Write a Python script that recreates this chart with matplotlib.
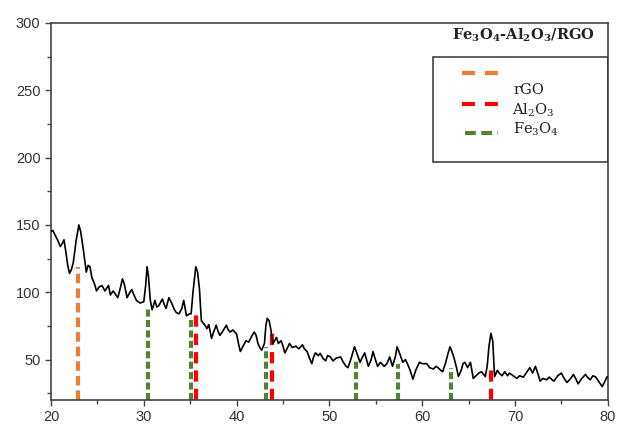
import matplotlib
matplotlib.use("Agg")
import matplotlib.pyplot as plt
from matplotlib.patches import Rectangle
from matplotlib.ticker import MultipleLocator

# XRD pattern (2-theta, intensity)
two_theta = [20.0, 20.2, 20.4, 20.7, 21.0, 21.2, 21.4, 21.6, 21.8, 22.0, 22.2, 22.4, 22.7, 23.0, 23.2,
             23.5, 23.8, 24.0, 24.2, 24.4, 24.7, 24.9, 25.2, 25.5, 25.8, 26.0, 26.2, 26.4, 26.7, 26.9,
             27.2, 27.5, 27.7, 27.9, 28.2, 28.5, 28.7, 29.0, 29.2, 29.6, 30.0, 30.2, 30.35, 30.5, 30.7,
             30.9, 31.2, 31.4, 31.6, 32.0, 32.2, 32.4, 32.7, 33.0, 33.3, 33.5, 33.8, 34.1, 34.3, 34.6,
             34.9, 35.1, 35.3, 35.6, 35.8, 36.0, 36.2, 36.4, 36.6, 36.8, 37.0, 37.3, 37.5, 37.8, 38.0,
             38.2, 38.5, 38.9, 39.1, 39.3, 39.6, 40.0, 40.2, 40.4, 40.7, 41.0, 41.3, 41.6, 41.9, 42.1,
             42.3, 42.5, 42.7, 43.0, 43.15, 43.3, 43.5, 43.7, 43.9, 44.1, 44.3, 44.5, 44.8, 45.0, 45.2,
             45.5, 45.7, 46.0, 46.4, 46.7, 47.1, 47.3, 47.6, 47.8, 48.1, 48.3, 48.5, 48.8, 49.0, 49.3,
             49.6, 49.8, 50.1, 50.4, 50.7, 51.2, 51.5, 51.8, 52.0, 52.3, 52.7, 53.0, 53.3, 53.5, 53.8,
             54.0, 54.2, 54.5, 54.7, 55.0, 55.2, 55.5, 55.9, 56.2, 56.5, 56.8, 57.1, 57.3, 57.6, 57.9,
             58.2, 58.4, 58.7, 59.0, 59.3, 59.7, 60.0, 60.5, 60.8, 61.2, 61.5, 61.7, 62.0, 62.2, 62.5,
             62.8, 63.0, 63.2, 63.4, 63.7, 63.9, 64.2, 64.4, 64.6, 64.9, 65.2, 65.5, 65.8, 66.1, 66.4,
             66.8, 67.0, 67.2, 67.4, 67.6, 67.8, 68.1, 68.3, 68.6, 68.9, 69.2, 69.4, 69.8, 70.2, 70.5,
             70.9, 71.2, 71.6, 71.9, 72.2, 72.5, 72.7, 73.0, 73.4, 73.7, 74.0, 74.2, 74.6, 75.0, 75.3,
             75.6, 76.0, 76.3, 76.6, 76.8, 77.2, 77.6, 77.8, 78.1, 78.4, 78.7, 79.0, 79.4, 79.7, 79.9, 80.0]
intensity = [145, 146, 143, 139, 134, 136, 139, 130, 120, 114, 117, 122, 138, 150, 145,
             131, 115, 120, 119, 111, 106, 101, 104, 105, 101, 103, 105, 98, 101, 99,
             96, 104, 110, 106, 96, 100, 102, 97, 94, 92, 93, 105, 119, 112, 94,
             87, 94, 89, 90, 95, 91, 88, 96, 92, 87, 85, 84, 88, 94, 82.5,
             84, 84, 100, 119, 115, 102, 79, 77, 75.5, 73, 76, 65.7, 70, 75.5, 71,
             68, 71, 75.5, 72, 70.5, 72, 69, 62, 56, 60, 64, 63, 67, 70.5, 68,
             62, 59, 57, 62, 75, 80.6, 79, 72, 62, 64, 66.5, 62, 64, 60, 55,
             59, 62, 59, 60, 58, 61, 58, 56, 52, 47, 52, 55, 53, 54.6, 51,
             49, 53, 52, 49, 51, 52, 48, 45, 44, 50, 59.5, 54, 48, 51, 55,
             50, 45, 50, 56, 49, 45, 48, 45, 47, 52, 45, 52, 59.5, 54, 48,
             50, 47, 42, 35.5, 42, 48, 47, 47, 44, 43, 45, 44, 42, 41, 47,
             55, 59.5, 56, 52, 44, 37.5, 42, 47, 48, 44, 48, 36, 38, 40, 41,
             37.4, 45, 60, 69.5, 64, 37.4, 42, 40, 38, 41, 38, 40, 38, 36, 38,
             37, 40, 44, 40, 45, 39, 34, 36, 35, 37, 35, 34, 38, 40, 36,
             33, 36, 39, 35, 32, 36, 39, 37, 35, 38, 37, 34, 30, 34, 37, 37]

# Reference peak positions and marker heights
rgo_pos = [22.9]
rgo_top = [119]
al2o3_pos = [35.6, 43.8, 67.4]
al2o3_top = [83, 69.7, 43.6]
fe3o4_pos = [30.4, 35.05, 43.2, 52.85, 57.4, 63.05]
fe3o4_top = [89, 80.8, 59.5, 49.5, 47, 43.6]

ORANGE = "#ED7D31"
RED = "#FF0000"
GREEN = "#548235"
Y0 = 20

plt.rcParams["mathtext.fontset"] = "dejavuserif"
fig = plt.figure(figsize=(6.19, 4.24), dpi=100)
ax = fig.add_axes([0.0824, 0.0566, 0.8995, 0.8892])

ax.plot(two_theta, intensity, color="black", lw=1.2, zorder=3)

ax.vlines(rgo_pos, Y0, rgo_top, colors=ORANGE, lw=3, linestyles=(0, (2.3, 1.2)), zorder=2)
ax.vlines(al2o3_pos, Y0, al2o3_top, colors=RED, lw=3, linestyles=(0, (2.7, 1.7)), zorder=2)
ax.vlines(fe3o4_pos, Y0, fe3o4_top, colors=GREEN, lw=3, linestyles=(0, (1.7, 0.8)), zorder=2)

ax.set_xlim(20, 80)
ax.set_ylim(Y0, 300)
ax.xaxis.set_major_locator(MultipleLocator(10))
ax.xaxis.set_minor_locator(MultipleLocator(5))
ax.yaxis.set_major_locator(MultipleLocator(50))
ax.yaxis.set_minor_locator(MultipleLocator(25))
ax.tick_params(which="both", direction="out", colors="#444444", labelcolor="#333333",
               top=False, right=False)
ax.tick_params(which="major", length=4, width=1, labelsize=10.5)
ax.tick_params(which="minor", length=3, width=1)
for lab in ax.get_xticklabels() + ax.get_yticklabels():
    lab.set_fontfamily("Liberation Sans")
for s in ax.spines.values():
    s.set_color("#444444")
    s.set_linewidth(1.2)

# title inside the axes
ax.text(0.977, 0.968, r"Fe$_\mathbf{3}$O$_\mathbf{4}$-Al$_\mathbf{2}$O$_\mathbf{3}$/RGO",
        transform=ax.transAxes, ha="right", va="center", fontsize=10.5,
        fontweight="bold", family="DejaVu Serif", color="#222222")

# manual legend box
ax.add_patch(Rectangle((0.686, 0.631), 0.314, 0.279, transform=ax.transAxes,
                       fill=False, edgecolor="#333333", lw=1.1, zorder=4))
ax.plot([0.738, 0.803], [0.867, 0.867], transform=ax.transAxes, color=ORANGE, lw=3,
        linestyle=(0, (3.1, 2.4)))
ax.plot([0.738, 0.803], [0.785, 0.785], transform=ax.transAxes, color=RED, lw=3,
        linestyle=(0, (3.1, 2.4)))
ax.plot([0.743, 0.803], [0.708, 0.708], transform=ax.transAxes, color=GREEN, lw=3,
        linestyle=(0, (2.6, 1.3)))
ax.text(0.831, 0.822, "rGO", transform=ax.transAxes, ha="left", va="center",
        fontsize=10.5, family="DejaVu Serif", color="#222222")
ax.text(0.828, 0.769, r"Al$_2$O$_3$", transform=ax.transAxes, ha="left", va="center",
        fontsize=10.5, family="DejaVu Serif", color="#222222")
ax.text(0.830, 0.719, r"Fe$_3$O$_4$", transform=ax.transAxes, ha="left", va="center",
        fontsize=10.5, family="DejaVu Serif", color="#222222")

fig.savefig("out.png", dpi=100)
